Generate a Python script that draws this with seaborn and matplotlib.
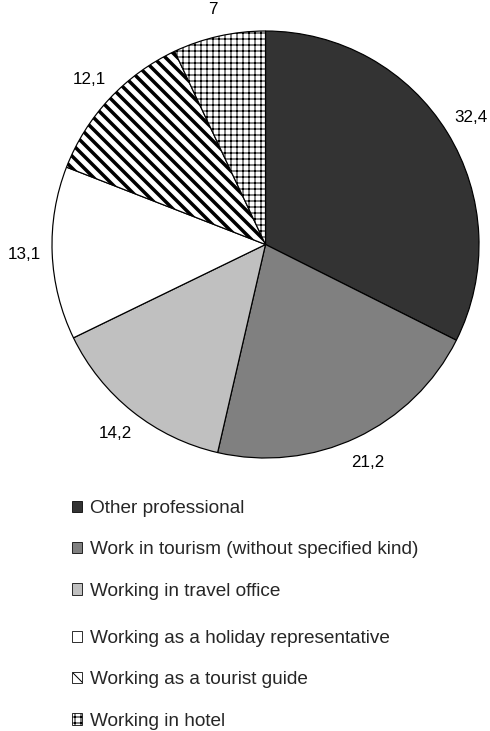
import matplotlib
matplotlib.use("Agg")
import matplotlib.pyplot as plt
from matplotlib.patches import Patch
import seaborn as sns

sns.set_style("white")
plt.rcParams['font.family'] = ['Liberation Sans', 'DejaVu Sans']

# data
categories = ["Other professional",
              "Work in tourism (without specified kind)",
              "Working in travel office",
              "Working as a holiday representative",
              "Working as a tourist guide",
              "Working in hotel"]
values = [32.4, 21.2, 14.2, 13.1, 12.1, 7]
value_labels = ["32,4", "21,2", "14,2", "13,1", "12,1", "7"]

colors = ["#333333", "#808080", "#c0c0c0", "white", "white", "white"]
hatches = [None, None, None, None, "\\\\", "++"]
hatch_lw = [1, 1, 1, 1, 3.5, 1]

# dpi 72 -> 1 pt == 1 px
fig = plt.figure(figsize=(490 / 72, 731 / 72), dpi=72)
ax = fig.add_axes([52 / 490, 273 / 731, 427 / 490, 427 / 731])

wedges, texts = ax.pie(values, labels=value_labels, colors=colors,
                       startangle=90, counterclock=False, labeldistance=1.13,
                       wedgeprops=dict(edgecolor="black", linewidth=1.2),
                       textprops=dict(fontsize=17, color="black"))
for w, h, lw in zip(wedges, hatches, hatch_lw):
    if h:
        w.set_hatch(h)
        if hasattr(w, "set_hatch_linewidth"):
            w.set_hatch_linewidth(lw)
for t in texts:
    t.set_ha("center")
    t.set_va("center")
ax.set_xlim(-1, 1)
ax.set_ylim(-1, 1)

handles = []
for c, h, lw in zip(colors, hatches, hatch_lw):
    p = Patch(facecolor=c, edgecolor="black", hatch=h, linewidth=0.8)
    if h and hasattr(p, "set_hatch_linewidth"):
        p.set_hatch_linewidth(min(lw, 2.5))
    handles.append(p)

kw = dict(loc="upper left", frameon=False, fontsize=19,
          handlelength=0.53, handleheight=0.53, handletextpad=0.4,
          labelspacing=1.28, borderpad=0, borderaxespad=0)
fig.legend(handles[:3], categories[:3], bbox_to_anchor=(72 / 490, 1 - 500 / 731), **kw)
fig.legend(handles[3:], categories[3:], bbox_to_anchor=(72 / 490, 1 - 630 / 731), **kw)

fig.savefig("out.png", dpi=72)
